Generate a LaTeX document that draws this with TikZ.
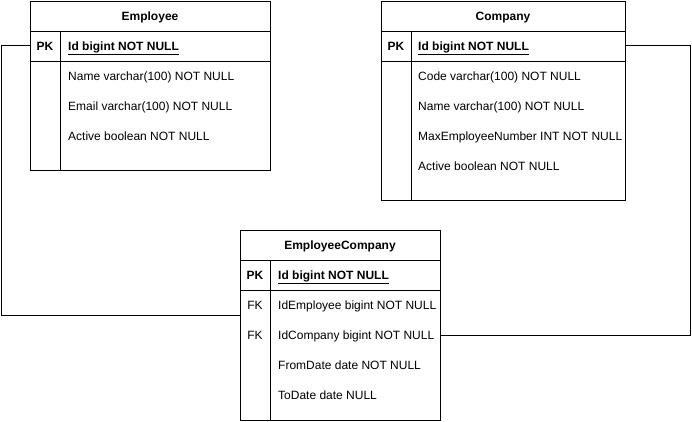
\documentclass[tikz,border=0pt]{standalone}
\usepackage{fontspec}
\setmainfont{Liberation Sans}
\begin{document}
\begin{tikzpicture}[x=1pt,y=-1pt,
  tbl/.style={draw=black, line width=1pt, inner sep=0pt, anchor=north west, fill=white},
  sep/.style={draw=black, line width=1pt},
  hdr/.style={font=\fontsize{12}{14}\selectfont\bfseries, inner sep=0pt, anchor=base},
  key/.style={font=\fontsize{12}{14}\selectfont, inner sep=0pt, anchor=base},
  fld/.style={font=\fontsize{12}{14}\selectfont, inner sep=0pt, anchor=base west},
  conn/.style={draw=black, line width=1pt}]
\useasboundingbox (0,0) rectangle (692,421);

% ---------- Employee ----------
\node[tbl, minimum width=240pt, minimum height=169pt] (emp) at (30,1) {};
\draw[sep] (30,31) -- (270,31);
\draw[sep] (30,61) -- (270,61);
\draw[sep] (60,31) -- (60,170);
\node[hdr] (empT) at (150,20.5) {Employee};
\node[key] (empPK) at (45,50.5) {\bfseries PK};
\node[fld] (empId) at (68,50.5) {\bfseries\underline{Id bigint NOT NULL}};
\node[fld] (empName) at (68,80.5) {Name varchar(100) NOT NULL};
\node[fld] (empEmail) at (68,110.5) {Email varchar(100) NOT NULL};
\node[fld] (empActive) at (68,140.5) {Active boolean NOT NULL};

% ---------- Company ----------
\node[tbl, minimum width=244pt, minimum height=199pt] (comp) at (381,1) {};
\draw[sep] (381,31) -- (625,31);
\draw[sep] (381,61) -- (625,61);
\draw[sep] (411,31) -- (411,200);
\node[hdr] (compT) at (503,20.5) {Company};
\node[key] (compPK) at (396,50.5) {\bfseries PK};
\node[fld] (compId) at (418,50.5) {\bfseries\underline{Id bigint NOT NULL}};
\node[fld] (compCode) at (418,80.5) {Code varchar(100) NOT NULL};
\node[fld] (compName) at (418,110.5) {Name varchar(100) NOT NULL};
\node[fld] (compMax) at (418,140.5) {MaxEmployeeNumber INT NOT NULL};
\node[fld] (compActive) at (418,170.5) {Active boolean NOT NULL};

% ---------- EmployeeCompany ----------
\node[tbl, minimum width=200pt, minimum height=190pt] (ec) at (240,230) {};
\draw[sep] (240,260) -- (440,260);
\draw[sep] (240,290) -- (440,290);
\draw[sep] (270,260) -- (270,420);
\node[hdr] (ecT) at (340,249.5) {EmployeeCompany};
\node[key] (ecPK) at (255,279.5) {\bfseries PK};
\node[fld] (ecId) at (278,279.5) {\bfseries\underline{Id bigint NOT NULL}};
\node[key] (ecFK1) at (255,309.5) {FK};
\node[fld] (ecEmp) at (278,309.5) {IdEmployee bigint NOT NULL};
\node[key] (ecFK2) at (255,339.5) {FK};
\node[fld] (ecComp) at (278,339.5) {IdCompany bigint NOT NULL};
\node[fld] (ecFrom) at (278,369.5) {FromDate date NOT NULL};
\node[fld] (ecTo) at (278,399.5) {ToDate date NULL};

% ---------- connectors ----------
\coordinate (empOut) at (30,45);
\coordinate (leftBend) at (1,45);
\coordinate (ecInL) at (240,315);
\coordinate (compOut) at (625,45);
\coordinate (rightBend) at (690,45);
\coordinate (ecInR) at (440,335);
\draw[conn] (empOut) -- (leftBend) |- (ecInL);
\draw[conn] (compOut) -- (rightBend) |- (ecInR);
\end{tikzpicture}
\end{document}
